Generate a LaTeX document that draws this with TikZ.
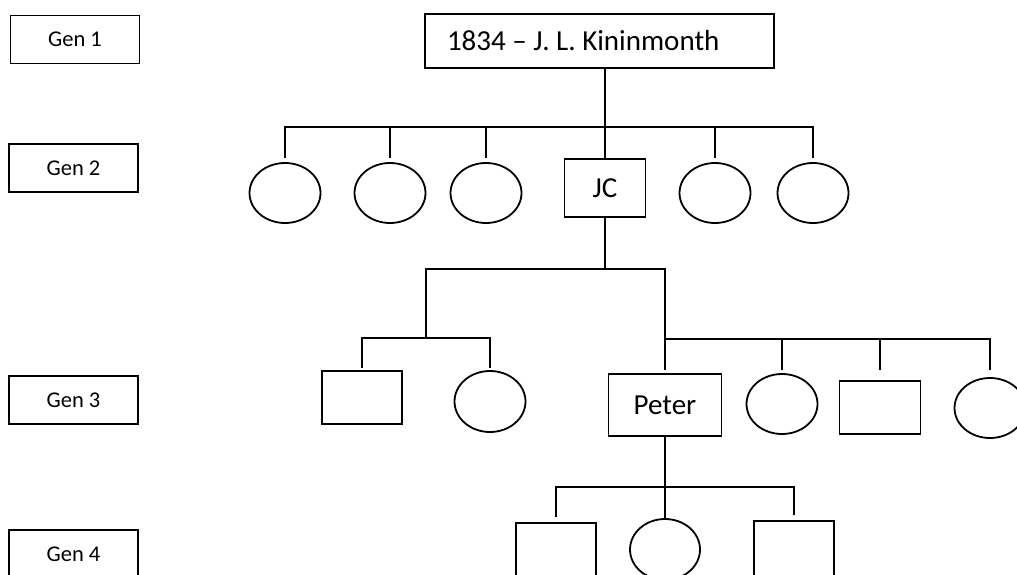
\documentclass[tikz,border=0pt]{standalone}
\usepackage{fontspec}
\setmainfont{Carlito}
\usetikzlibrary{shapes.geometric}
\frenchspacing
\begin{document}
\begin{tikzpicture}[x=1pt,y=-1pt,line width=1.8pt,
  box/.style={draw, rectangle, inner sep=0pt},
  person/.style={draw, ellipse, minimum width=71pt, minimum height=60pt, inner sep=0pt},
  genlabel/.style={draw, rectangle, minimum width=129pt, minimum height=48pt, inner sep=0pt,
    font=\fontsize{22.5}{27}\selectfont},
  nametext/.style={font=\fontsize{29}{34}\selectfont},
  link/.style={line cap=rect},
  drop/.style={shorten >=#1}]
\clip (0,0) rectangle (1017,575);

% generation labels
\node[genlabel] (g1) at (75,39.5) {Gen 1};
\node[genlabel] (g2) at (73.5,168) {Gen 2};
\node[genlabel] (g3) at (73.5,400) {Gen 3};
\node[genlabel] (g4) at (73.5,554) {Gen 4};

% generation 1
\node[box, nametext, inner xsep=22pt, minimum height=54pt]
  (root) at (599.5,41) {\makebox[305pt][l]{1834 – J. L. Kininmonth}};

% generation 2
\node[person] (a1) at (285,193) {};
\node[person] (a2) at (390,193) {};
\node[person] (a3) at (486,193) {};
\node[box, nametext, minimum width=81pt, minimum height=58pt] (jc) at (605,188) {JC};
\node[person] (a5) at (715,193) {};
\node[person] (a6) at (813,193) {};

\coordinate (b1) at (605,127);
\draw[link] (root.south -| jc.north) -- (jc.north);
\draw[link] (b1 -| a1.north) -- (b1 -| a6.north);
\foreach \c in {a1,a2,a3,a5,a6}
  \draw[link, drop=5pt] (b1 -| \c.north) -- (\c.north);

% generation 3
\node[box, minimum width=80pt, minimum height=53pt] (m1) at (362,397.5) {};
\node[person, minimum height=61pt] (m2) at (490,401.5) {};
\node[box, nametext, minimum width=113pt, minimum height=62pt] (peter) at (665,405) {Peter};
\node[person] (n2) at (782,404) {};
\node[box, minimum width=81pt, minimum height=53pt] (n3) at (880,407.5) {};
\node[person] (n4) at (990,408) {};

\coordinate (b2) at (605,269);
\coordinate (b3) at (426,338);
\coordinate (b4) at (665,339);
\draw[link] (jc.south) -- (b2);
\draw[link] (b3) |- (b2) -| (b4);
\draw[link] (b3 -| m1.north) -- (b3 -| m2.north);
\draw[link, drop=3pt] (b3 -| m1.north) -- (m1.north);
\draw[link, drop=3pt] (b3 -| m2.north) -- (m2.north);
\draw[link] (b4) -- (b4 -| n4.north);
\draw[link, drop=4pt] (b4) -- (peter.north);
\draw[link, drop=4pt] (b4 -| n2.north) -- (n2.north);
\draw[link, drop=11pt] (b4 -| n3.north) -- (n3.north);
\draw[link, drop=8pt] (b4 -| n4.north) -- (n4.north);

% generation 4
\node[box, minimum width=80pt, minimum height=58pt] (p1) at (556,552) {};
\node[person, minimum width=70pt, minimum height=61pt] (p2) at (665,549.5) {};
\node[box, minimum width=80pt, minimum height=58pt] (p3) at (794,550) {};

\coordinate (b5) at (665,487);
\draw[link] (peter.south) -- (b5);
\draw[link] (b5 -| p1.north) -- (b5 -| p3.north);
\draw[link, drop=6pt] (b5 -| p1.north) -- (p1.north);
\draw[link] (b5) -- (p2.north);
\draw[link, drop=6pt] (b5 -| p3.north) -- (p3.north);
\end{tikzpicture}
\end{document}
